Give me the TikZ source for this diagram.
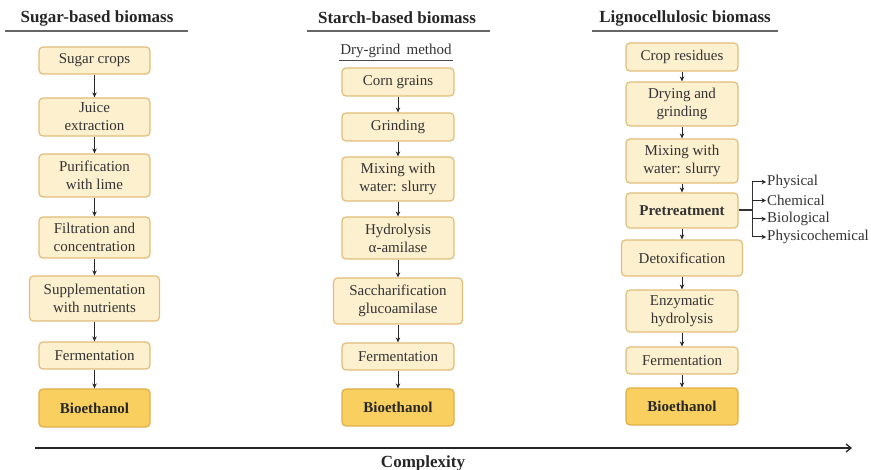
\documentclass[tikz,border=0pt]{standalone}
\usepackage{fontspec}
\setmainfont{Liberation Serif}
\usetikzlibrary{arrows.meta}
\definecolor{boxfill}{HTML}{FDF0CF}
\definecolor{boxdraw}{HTML}{E2BD7A}
\definecolor{bioFill}{HTML}{F9D05F}
\definecolor{bioDraw}{HTML}{DFAE45}
\definecolor{txt}{HTML}{333333}
\tikzset{
  stepbox/.style={draw=boxdraw, fill=boxfill, line width=1.2pt, rounded corners=4pt,
    align=center, inner sep=1pt, font=\fontsize{15}{18}\selectfont, text=txt},
  biobox/.style={stepbox, draw=bioDraw, fill=bioFill, font=\fontsize{15}{18}\selectfont\bfseries, text=black!85},
  title/.style={font=\fontsize{17}{20}\selectfont\bfseries, text=black!85},
  flow/.style={-{Stealth[length=5pt,width=4.5pt]}, line width=1pt, black!85},
  lbl/.style={font=\fontsize{15}{18}\selectfont, text=txt, anchor=west, inner sep=1pt},
}
\begin{document}
\begin{tikzpicture}[x=1pt,y=-1pt]
\useasboundingbox (0,0) rectangle (871,470);
% titles
\node[title] (T1) at (97,18) {Sugar-based biomass};
\node[title] (T2) at (397,18) {Starch-based biomass};
\node[title] (T3) at (685,18) {Lignocellulosic biomass};
\coordinate (u1a) at (5,31); \coordinate (u1b) at (188,31);
\coordinate (u2a) at (307,31); \coordinate (u2b) at (490,31);
\coordinate (u3a) at (592,31); \coordinate (u3b) at (778,31);
\draw[line width=1.4pt, black!60] (u1a) -- (u1b);
\draw[line width=1.4pt, black!60] (u2a) -- (u2b);
\draw[line width=1.4pt, black!60] (u3a) -- (u3b);
\node[font=\fontsize{15}{18}\selectfont, text=txt, inner sep=1pt] (dg) at (396,51) {Dry-grind\, method};
\draw[line width=0.6pt, black!70] ([yshift=-1pt]dg.south west) -- ([yshift=-1pt]dg.south east);

% sugar column
\node[stepbox, minimum width=111pt, minimum height=27pt] (s1) at (94.5,60.5) {Sugar crops};
\node[stepbox, minimum width=111pt, minimum height=38pt] (s2) at (94.5,117) {Juice\\extraction};
\node[stepbox, minimum width=111pt, minimum height=43pt] (s3) at (94.5,175.5) {Purification\\with lime};
\node[stepbox, minimum width=111pt, minimum height=41pt] (s4) at (94.5,237.5) {Filtration and\\concentration};
\node[stepbox, minimum width=130pt, minimum height=45pt] (s5) at (94.5,298.5) {Supplementation\\with nutrients};
\node[stepbox, minimum width=111pt, minimum height=27pt] (s6) at (94.5,355.5) {Fermentation};
\node[biobox, minimum width=111pt, minimum height=38pt] (s7) at (94.5,408) {Bioethanol};
\foreach \a/\b in {s1/s2,s2/s3,s3/s4,s4/s5,s5/s6,s6/s7}
  \draw[flow] (\a.south) -- (\b.north);

% starch column
\node[stepbox, minimum width=112pt, minimum height=28pt] (t1) at (398,82) {Corn grains};
\node[stepbox, minimum width=112pt, minimum height=28pt] (t2) at (398,127) {Grinding};
\node[stepbox, minimum width=112pt, minimum height=44pt] (t3) at (398,179) {Mixing with\\water: slurry};
\node[stepbox, minimum width=112pt, minimum height=42pt] (t4) at (398,238) {Hydrolysis\\α-amilase};
\node[stepbox, minimum width=129pt, minimum height=46pt] (t5) at (398,301) {Saccharification\\glucoamilase};
\node[stepbox, minimum width=112pt, minimum height=27pt] (t6) at (398,356.5) {Fermentation};
\node[biobox, minimum width=112pt, minimum height=37pt] (t7) at (398,407.5) {Bioethanol};
\foreach \a/\b in {t1/t2,t2/t3,t3/t4,t4/t5,t5/t6,t6/t7}
  \draw[flow] (\a.south) -- (\b.north);

% lignocellulosic column
\node[stepbox, minimum width=112pt, minimum height=28pt] (l1) at (682,57) {Crop residues};
\node[stepbox, minimum width=112pt, minimum height=44pt] (l2) at (682,104) {Drying and\\grinding};
\node[stepbox, minimum width=112pt, minimum height=44pt] (l3) at (682,161) {Mixing with\\water: slurry};
\node[stepbox, minimum width=112pt, minimum height=35pt, font=\fontsize{15}{18}\selectfont\bfseries] (l4) at (682,210.5) {Pretreatment};
\node[stepbox, minimum width=121pt, minimum height=36pt] (l5) at (682,258) {Detoxification};
\node[stepbox, minimum width=112pt, minimum height=42pt] (l6) at (682,311) {Enzymatic\\hydrolysis};
\node[stepbox, minimum width=112pt, minimum height=27pt] (l7) at (682,360.5) {Fermentation};
\node[biobox, minimum width=112pt, minimum height=37pt] (l8) at (682,406.5) {Bioethanol};
\foreach \a/\b in {l1/l2,l2/l3,l3/l4,l4/l5,l5/l6,l6/l7,l7/l8}
  \draw[flow] (\a.south) -- (\b.north);

% pretreatment branches
\coordinate (bj) at (752,210.5);
\coordinate (bt) at (752,182);
\coordinate (bb) at (752,237);
\node[lbl] (p1) at (766,182) {Physical};
\node[lbl] (p2) at (766,200.5) {Chemical};
\node[lbl] (p3) at (766,219) {Biological};
\node[lbl] (p4) at (766,237) {Physicochemical};
\draw[line width=2pt, black!80] (l4.east) -- (bj);
\draw[line width=1pt, black!80] (bt) -- (bb);
\foreach \p in {p1,p2,p3,p4}
  \draw[flow, -{Stealth[length=4.5pt,width=4.5pt]}] (bj |- \p.west) -- (\p.west);

% complexity axis
\coordinate (ax1) at (35,448);
\coordinate (ax2) at (852,448);
\draw[line width=1.3pt, black!85, -{Straight Barb[length=5pt,width=8pt]}] (ax1) -- (ax2);
\node[title] (cx) at (423,463) {Complexity};
\end{tikzpicture}
\end{document}
